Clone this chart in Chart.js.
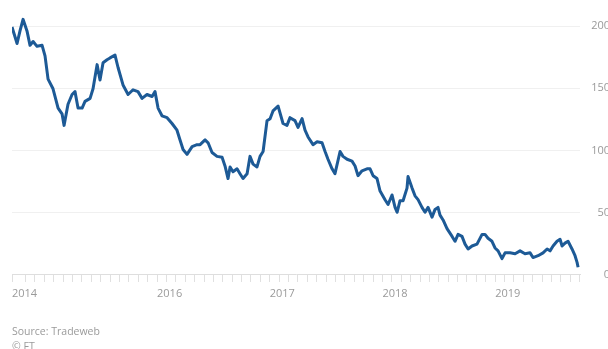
<!DOCTYPE html>
<html>
<head>
<meta charset="utf-8">
<script src="https://cdn.jsdelivr.net/npm/chart.js@4.4.1/dist/chart.umd.min.js"></script>
<style>
  html, body { margin: 0; padding: 0; background: #fff; overflow: hidden; }
  canvas { display: block; }
</style>
</head>
<body>
<canvas id="chart-1" width="608" height="362"></canvas>
<script>
// decimal years
var dates = [
    2014.713, 2014.758, 2014.784, 2014.811, 2014.846, 2014.873, 2014.900, 2014.935, 2014.980, 2015.006,
    2015.033, 2015.077, 2015.122, 2015.157, 2015.175, 2015.210, 2015.246, 2015.272, 2015.299, 2015.335,
    2015.361, 2015.406, 2015.432, 2015.468, 2015.494, 2015.521, 2015.556, 2015.583, 2015.627, 2015.654,
    2015.698, 2015.743, 2015.787, 2015.831, 2015.867, 2015.911, 2015.956, 2015.982, 2016.009, 2016.044,
    2016.089, 2016.133, 2016.177, 2016.204, 2016.231, 2016.266, 2016.311, 2016.355, 2016.382, 2016.426,
    2016.453, 2016.488, 2016.532, 2016.577, 2016.603, 2016.630, 2016.648, 2016.674, 2016.710, 2016.736,
    2016.763, 2016.799, 2016.825, 2016.852, 2016.887, 2016.914, 2016.941, 2016.976, 2017.003, 2017.029,
    2017.074, 2017.118, 2017.153, 2017.180, 2017.224, 2017.251, 2017.287, 2017.313, 2017.340, 2017.384,
    2017.420, 2017.464, 2017.491, 2017.517, 2017.553, 2017.579, 2017.624, 2017.650, 2017.686, 2017.730,
    2017.757, 2017.783, 2017.819, 2017.863, 2017.890, 2017.917, 2017.952, 2017.979, 2018.023, 2018.050,
    2018.085, 2018.112, 2018.130, 2018.156, 2018.183, 2018.218, 2018.227, 2018.263, 2018.289, 2018.316,
    2018.351, 2018.378, 2018.405, 2018.440, 2018.467, 2018.493, 2018.511, 2018.538, 2018.573, 2018.618,
    2018.644, 2018.671, 2018.706, 2018.733, 2018.760, 2018.795, 2018.839, 2018.884, 2018.910, 2018.937,
    2018.972, 2018.999, 2019.026, 2019.061, 2019.088, 2019.132, 2019.177, 2019.221, 2019.265, 2019.310,
    2019.336, 2019.381, 2019.425, 2019.461, 2019.487, 2019.514, 2019.549, 2019.576, 2019.594, 2019.620,
    2019.647, 2019.682, 2019.709, 2019.727, 2019.736
];
var spread = [
    199.2, 186.0, 196.1, 205.4, 196.1, 184.5, 187.6, 183.7, 184.5, 176.0,
    157.4, 149.6, 134.1, 129.5, 120.2, 137.2, 145.0, 147.3, 134.1, 134.1,
    139.5, 141.9, 149.6, 169.0, 156.6, 170.5, 172.9, 174.4, 176.7, 166.7,
    152.7, 145.0, 148.8, 147.3, 141.9, 145.0, 143.4, 147.3, 134.1, 127.9,
    126.4, 121.7, 116.3, 108.5, 100.8, 96.9, 103.1, 104.7, 104.7, 108.5,
    106.2, 98.4, 95.3, 94.6, 87.6, 77.5, 86.8, 82.9, 85.3, 81.4,
    77.5, 81.4, 95.3, 89.1, 86.8, 95.3, 99.2, 124.0, 125.6, 131.8,
    135.7, 121.7, 120.2, 126.4, 124.0, 118.6, 125.6, 116.3, 110.9, 104.7,
    107.0, 106.2, 99.2, 93.0, 85.3, 81.4, 99.2, 95.3, 93.0, 91.5,
    87.6, 79.8, 83.7, 85.3, 85.3, 79.8, 77.5, 67.4, 60.5, 56.6,
    64.3, 54.3, 50.4, 59.7, 59.7, 69.8, 79.1, 69.8, 63.6, 60.5,
    54.3, 50.4, 54.3, 46.5, 52.7, 54.3, 48.1, 44.2, 37.2, 31.0,
    27.1, 32.6, 31.0, 24.8, 20.9, 23.3, 24.8, 32.6, 32.6, 29.5,
    27.1, 21.7, 19.4, 13.2, 17.8, 17.8, 17.1, 19.4, 17.1, 17.8,
    14.0, 15.5, 17.8, 20.9, 19.4, 23.3, 27.1, 28.7, 23.3, 25.6,
    27.1, 20.9, 15.5, 10.1, 6.2
];

var yTickValues = [0, 50, 100, 150, 200];
var yearTickValues = [2014.713, 2016, 2017, 2018, 2019];
var yearTickLabels = ['2014', '2016', '2017', '2018', '2019'];
var sourceLines = ['Source: Tradeweb', '\u00a9 FT'];

var xMin = 2014.713;
var xMax = 2019.753;

var points = [];
for (let i = 0; i < dates.length; i++) {
    points.push({ x: dates[i], y: spread[i] });
}

// month tick marks along the bottom axis
var xTickValues = yearTickValues.slice();
for (let y = 2014; y <= 2019; y++) {
    for (let m = 0; m < 12; m++) {
        var v = y + m / 12;
        if (v > xMin + 0.04 && v < xMax && xTickValues.indexOf(v) < 0) {
            xTickValues.push(v);
        }
    }
}
xTickValues.sort(function(a, b) { return a - b; });

var greyText = '#9a9a9a';

const ctx = document.getElementById("chart-1").getContext("2d");
const myChart = new Chart(ctx, {
    type: "line",
    data: {
        datasets: [{
            data: points,
            borderColor: '#1d5a96',
            backgroundColor: '#1d5a96',
            borderWidth: 3,
            pointRadius: 0,
            tension: 0,
            borderJoinStyle: 'round',
        }],
    },
    options: {
        responsive: false,
        animation: false,
        devicePixelRatio: 1,
        layout: {
            padding: { left: 12, right: -2, top: 9, bottom: 7.5 },
        },
        plugins: {
            legend: { display: false },
            tooltip: { enabled: false },
            title: {
                display: true,
                position: 'bottom',
                align: 'start',
                text: sourceLines,
                color: greyText,
                font: { family: 'Open Sans', size: 10.5, weight: 'normal', lineHeight: 1.4286 },
                padding: { top: 19.3, bottom: 0 },
            },
        },
        scales: {
            x: {
                type: 'linear',
                min: xMin,
                max: xMax,
                afterBuildTicks: function(scale) {
                    scale.ticks = xTickValues.map(function(v) { return { value: v }; });
                },
                ticks: {
                    autoSkip: false,
                    maxRotation: 0,
                    align: 'start',
                    padding: 5,
                    color: greyText,
                    font: { family: 'Open Sans', size: 11, lineHeight: 1.2 },
                    callback: function(value) {
                        for (let i = 0; i < yearTickValues.length; i++) {
                            if (Math.abs(yearTickValues[i] - value) < 0.001) {
                                return yearTickLabels[i];
                            }
                        }
                        return '';
                    },
                },
                grid: {
                    drawOnChartArea: false,
                    drawTicks: true,
                    tickLength: 7,
                    color: '#e0e0e0',
                },
                border: { display: true, color: '#dedede' },
            },
            y: {
                position: 'right',
                min: 0,
                max: 210,
                afterBuildTicks: function(scale) {
                    scale.ticks = yTickValues.map(function(v) { return { value: v }; });
                },
                afterFit: function(scale) {
                    scale.width = 30;
                },
                ticks: {
                    crossAlign: 'far',
                    padding: 7,
                    color: greyText,
                    font: { family: 'Open Sans', size: 11 },
                },
                grid: {
                    drawTicks: false,
                    color: function(c) {
                        return c.tick && c.tick.value === 0 ? 'rgba(0,0,0,0)' : '#f0f0f0';
                    },
                },
                border: { display: false },
            },
        },
    },
});
</script>
</body>
</html>
